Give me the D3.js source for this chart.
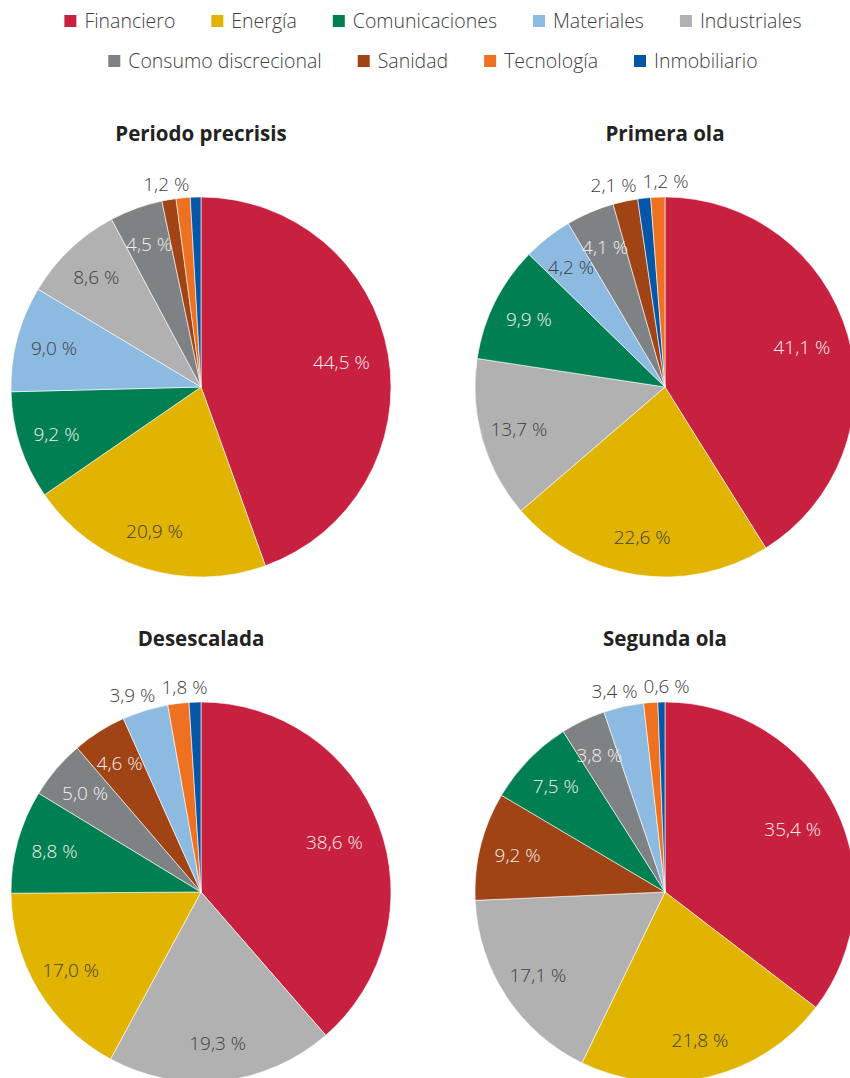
<!DOCTYPE html>
<html>
<head>
<meta charset="utf-8">
<script src="https://d3js.org/d3.v7.min.js"></script>
<style>
  body { margin: 0; background: #fff; }
  svg { display: block; font-family: "Open Sans", "Noto Sans", sans-serif; }
</style>
</head>
<body>
<div id="vis"></div>
<script>
  // sectors, in legend order
  const categories = ["Financiero", "Energía", "Comunicaciones", "Materiales", "Industriales",
                      "Consumo discrecional", "Sanidad", "Tecnología", "Inmobiliario"]
  const colors = ["#c8203f", "#e0b400", "#008052", "#8dbae0", "#b1b1b1",
                  "#7f8285", "#a04315", "#ee7121", "#0556a6"]
  const darkText = ["Energía", "Materiales", "Industriales"]

  const periods = ["Periodo precrisis", "Primera ola", "Desescalada", "Segunda ola"]

  // share of each sector (%), same order as categories
  const precrisis   = [44.5, 20.9, 9.2, 9.0, 8.6, 4.5, 1.2, 1.2, 0.9]
  const primeraOla  = [41.1, 22.6, 9.9, 4.2, 13.7, 4.1, 2.1, 1.2, 1.1]
  const desescalada = [38.6, 17.0, 8.8, 3.9, 19.3, 5.0, 4.6, 1.8, 1.0]
  const segundaOla  = [35.4, 21.8, 7.5, 3.4, 17.1, 3.8, 9.2, 1.2, 0.6]
  const values = [precrisis, primeraOla, desescalada, segundaOla]

  // order of the slices, clockwise from 12 o'clock
  const sliceOrder = [
    ["Financiero", "Energía", "Comunicaciones", "Materiales", "Industriales", "Consumo discrecional", "Sanidad", "Tecnología", "Inmobiliario"],
    ["Financiero", "Energía", "Industriales", "Comunicaciones", "Materiales", "Consumo discrecional", "Sanidad", "Inmobiliario", "Tecnología"],
    ["Financiero", "Industriales", "Energía", "Comunicaciones", "Consumo discrecional", "Sanidad", "Materiales", "Tecnología", "Inmobiliario"],
    ["Financiero", "Energía", "Industriales", "Sanidad", "Comunicaciones", "Consumo discrecional", "Materiales", "Tecnología", "Inmobiliario"]
  ]
  // labels drawn outside the pie / not drawn at all
  const outsideLabels = [["Sanidad"], ["Sanidad", "Tecnología"], ["Materiales", "Tecnología"], ["Materiales", "Inmobiliario"]]
  const hiddenLabels  = [["Tecnología", "Inmobiliario"], ["Inmobiliario"], ["Inmobiliario"], ["Tecnología"]]

  const width = 850, height = 1078
  const radius = 190

  const svg = d3.select("#vis").append("svg")
    .attr("width", width)
    .attr("height", height)

  const color = d3.scaleOrdinal().domain(categories).range(colors)
  const fmt = v => d3.format(".1f")(v).replace(".", ",") + " %"

  // Legend
  const legendRows = [categories.slice(0, 5), categories.slice(5)]
  legendRows.forEach(function(row, r) {
    const g = svg.append("g")
    let x = 0
    row.forEach(function(name) {
      g.append("rect")
        .attr("x", x).attr("y", -6)
        .attr("width", 12).attr("height", 12)
        .attr("fill", color(name))
      const t = g.append("text")
        .attr("x", x + 20).attr("y", 0)
        .attr("dy", "0.35em")
        .style("font-size", "19.5px")
        .style("font-weight", 300)
        .attr("fill", "#404040")
        .text(name)
      x += 20 + t.node().getComputedTextLength() + 36
    })
    x -= 36
    g.attr("transform", "translate(" + (433 - x / 2) + "," + (21 + r * 40) + ")")
  })

  const pie = d3.pie().sort(null).value(d => d.value)
  const arc = d3.arc().innerRadius(0).outerRadius(radius)
  const inArc = d3.arc().innerRadius(radius * 0.8).outerRadius(radius * 0.8)
  const bigArc = d3.arc().innerRadius(radius * 0.75).outerRadius(radius * 0.75)
  const outArc = d3.arc().innerRadius(radius + 16).outerRadius(radius + 16)

  periods.forEach(function(title, p) {
    const cx = 201 + (p % 2) * 464
    const cy = 387 + Math.floor(p / 2) * 505

    const rows = sliceOrder[p].map(function(name) {
      return { key: name, value: values[p][categories.indexOf(name)] }
    })
    const slices = pie(rows)

    const g = svg.append("g").attr("transform", "translate(" + cx + "," + cy + ")")

    g.selectAll("path")
      .data(slices)
      .enter()
      .append("path")
      .attr("d", arc)
      .attr("fill", d => color(d.data.key))
      .attr("stroke", "#fff")
      .attr("stroke-width", 0.6)

    svg.append("text")
      .attr("x", cx)
      .attr("y", cy - radius - 63)
      .attr("text-anchor", "middle")
      .attr("dy", "0.35em")
      .style("font-size", "20.5px")
      .style("font-weight", "bold")
      .attr("fill", "#222")
      .text(title)

    const shown = slices.filter(d => hiddenLabels[p].indexOf(d.data.key) < 0)

    const labels = g.selectAll("text.lbl")
      .data(shown)
      .enter()
      .append("text")
      .attr("class", "lbl")
      .attr("text-anchor", "middle")
      .attr("dy", "0.35em")
      .style("font-size", "19px")
      .style("font-weight", 300)
      .attr("fill", function(d) {
        if (outsideLabels[p].indexOf(d.data.key) >= 0) return "#404040"
        return darkText.indexOf(d.data.key) >= 0 ? "#404040" : "#f4eef0"
      })
      .text(d => fmt(d.data.value))
      .each(function(d) {
        const outside = outsideLabels[p].indexOf(d.data.key) >= 0
        const c = outside ? outArc.centroid(d) : (d.data.value > 30 ? bigArc : inArc).centroid(d)
        d.lx = c[0]; d.ly = c[1]; d.out = outside
        d.w = this.getComputedTextLength()
      })

    // push outside labels apart when they collide
    const outs = shown.filter(d => d.out).sort((a, b) => a.lx - b.lx)
    for (let i = 1; i < outs.length; i++) {
      const a = outs[i - 1], b = outs[i]
      const need = (a.w + b.w) / 2 + 6
      const gap = b.lx - a.lx
      if (gap < need) {
        const shift = (need - gap) / 2
        a.lx -= shift
        b.lx += shift
      }
    }

    labels.attr("x", d => d.lx).attr("y", d => d.ly)
  })
</script>
</body>
</html>
